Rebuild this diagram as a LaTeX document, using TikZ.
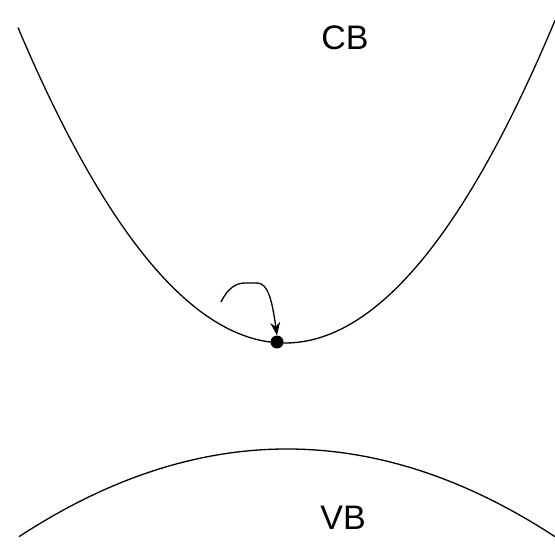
\documentclass[tikz,border=0pt]{standalone}
\usepackage{fontspec}
\setmainfont{Liberation Sans}
\usetikzlibrary{arrows.meta}
\begin{document}
\begin{tikzpicture}[x=1pt,y=-1pt,
  band/.style={line width=1.3pt, smooth, samples=120},
  lbl/.style={font=\fontsize{34}{40}\selectfont, inner sep=0pt},
  electron/.style={circle, fill=black, minimum size=13pt, inner sep=0pt},
  hop/.style={line width=1.3pt, -{Stealth[length=13pt,width=10pt]}}]
\useasboundingbox (0,0) rectangle (555,554);
\draw[band] plot[domain=18:555] (\x,{343-0.00443*(\x-285)*(\x-285)});
\draw[band] plot[domain=19:555] (\x,{449+0.001225*(\x-287)*(\x-287)});
\node[lbl] (cb) at (345,38) {CB};
\node[lbl] (vb) at (343,518) {VB};
\node[electron] (e) at (277,342) {};
\coordinate (s) at (221,302);
\draw[hop] (s) .. controls (228,288) and (236,283) .. (245,283) -- (257,283)
  .. controls (268,283) and (272,300) .. (e.north);
\end{tikzpicture}
\end{document}
